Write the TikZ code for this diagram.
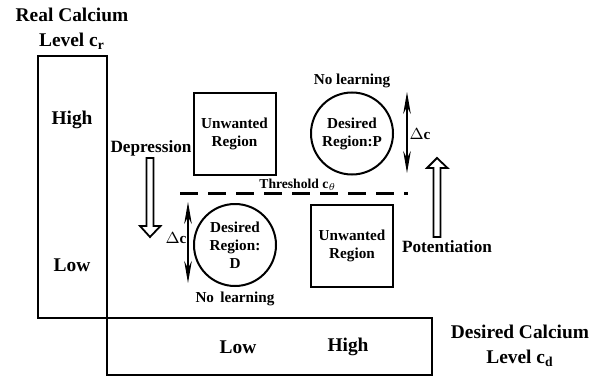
\documentclass[tikz,border=0pt]{standalone}
\usepackage{fontspec}
\setmainfont{Liberation Serif}
\usetikzlibrary{arrows.meta}

\begin{document}
\begin{tikzpicture}[x=0.5pt,y=-0.5pt,
  region/.style={draw,line width=1pt,align=center,inner sep=0pt,font=\fontsize{7.6}{9}\selectfont\bfseries},
  unwanted/.style={region,rectangle,minimum width=41pt,minimum height=41pt},
  desired/.style={region,circle,minimum size=41pt},
  smalltext/.style={align=center,font=\fontsize{7.6}{9}\selectfont\bfseries},
  midtext/.style={font=\fontsize{8.6}{10}\selectfont\bfseries},
  titletext/.style={align=center,font=\fontsize{9.7}{12.5}\selectfont\bfseries},
  axisbox/.style={line width=1pt},
  delta/.style={line width=0.6pt,{Stealth[length=11pt,width=3.8pt]}-{Stealth[length=11pt,width=3.8pt]}},
  hollow/.style={line width=0.9pt,line join=miter},
  threshold/.style={line width=1.5pt,dash pattern=on 9pt off 5pt}]
	\useasboundingbox (0,0) rectangle (611,380);
	% axes
	\draw[axisbox] (38,56) rectangle (107,318);
	\draw[axisbox] (107,318) rectangle (432,375);
	\node[titletext] (realtitle) at (72,29) {Real Calcium\\Level c\textsubscript{r}};
	\node[titletext] (desiredtitle) at (520,346) {Desired Calcium\\Level c\textsubscript{d}};
	\node[titletext] (yhigh) at (72,120) {High};
	\node[titletext] (ylow) at (72,265) {Low};
	\node[titletext] (xlow) at (238,347) {Low};
	\node[titletext] (xhigh) at (348,347) {High};
	% regions
	\node[unwanted] (unwantedtop) at (234.5,133.5) {Unwanted\\Region};
	\node[desired] (desiredP) at (352,133.5) {Desired\\Region:P};
	\node[desired] (desiredD) at (235,245) {Desired\\Region:\\D};
	\node[unwanted] (unwantedbot) at (352,246) {Unwanted\\Region};
	\node[smalltext] (nolearnP) at (352,81) {No learning};
	\node[smalltext] (nolearnD) at (235,299) {No\, learning};
	% threshold
	\coordinate (thL) at (180,193);
	\coordinate (thR) at (408,193);
	\draw[threshold] (thL) -- (thR);
	\node[font=\fontsize{6.8}{8}\selectfont\bfseries] (thlabel) at (298,185) {Threshold c$_\theta$};
	% delta c
	\coordinate (dPtop) at (407,92);
	\coordinate (dPbot) at (407,173);
	\draw[delta] (dPtop) -- (dPbot);
	\node[smalltext] (dPlab) at (420,134) {$\Delta$c};
	\coordinate (dDtop) at (188,202);
	\coordinate (dDbot) at (188,283);
	\draw[delta] (dDtop) -- (dDbot);
	\node[smalltext] (dDlab) at (176,238) {$\Delta$c};
	% depression / potentiation
	\node[midtext] (depress) at (151,148) {Depression};
	\draw[hollow] (146.5,158) -- (146.5,226) -- (140,226) -- (150,237) -- (160.5,226) -- (153.5,226) -- (153.5,158) -- cycle;
	\node[midtext] (potent) at (447,247) {Potentiation};
	\draw[hollow] (433.5,237) -- (433.5,168) -- (427,168) -- (437,158) -- (447.5,168) -- (440.5,168) -- (440.5,237) -- cycle;
\end{tikzpicture}
\end{document}
